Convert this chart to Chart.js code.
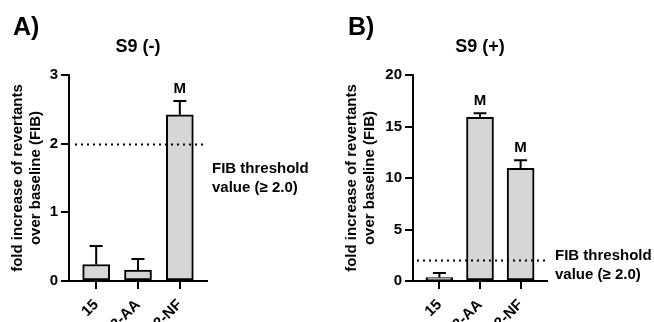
<!DOCTYPE html>
<html>
<head>
<meta charset="utf-8">
<script src="https://cdn.jsdelivr.net/npm/chart.js@4.4.1/dist/chart.umd.min.js"></script>
<style>
  html, body { margin: 0; padding: 0; background: #fff; overflow: hidden; }
  .row { display: flex; width: 654px; height: 322px; }
  canvas { display: block; }
</style>
</head>
<body>
<div class="row">
  <canvas id="panelA" width="327" height="340"></canvas>
  <canvas id="panelB" width="327" height="340"></canvas>
</div>
<script>
// values
var categories = ['15', '2-AA', '2-NF'];
var fibThreshold = 2.0;

var s9MinusMean = [0.24, 0.16, 2.42];
var s9MinusSD = [0.27, 0.16, 0.20];
var s9MinusMarks = ['', '', 'M'];

var s9PlusMean = [0.33, 15.9, 10.93];
var s9PlusSD = [0.45, 0.38, 0.80];
var s9PlusMarks = ['', 'M', 'M'];

var FONT = '"Liberation Sans", Arial, sans-serif';

var annotate = {
    id: 'annotate',
    afterDatasetsDraw: function (chart) {
        var p = chart.options.plugins.annotate;
        var ctx = chart.ctx;
        var area = chart.chartArea;
        var y = chart.scales.y;
        var meta = chart.getDatasetMeta(0);
        ctx.save();
        // error bars (upper only) + significance marks
        ctx.strokeStyle = '#000';
        ctx.lineWidth = 2;
        ctx.fillStyle = '#000';
        ctx.font = 'bold 15px ' + FONT;
        ctx.textAlign = 'center';
        ctx.textBaseline = 'middle';
        meta.data.forEach(function (bar, i) {
            var top = y.getPixelForValue(p.mean[i]);
            var errTop = y.getPixelForValue(p.mean[i] + p.sd[i]);
            ctx.beginPath();
            ctx.moveTo(bar.x, top);
            ctx.lineTo(bar.x, errTop);
            ctx.moveTo(bar.x - 6.5, errTop);
            ctx.lineTo(bar.x + 6.5, errTop);
            ctx.stroke();
            if (p.marks[i]) {
                ctx.fillText(p.marks[i], bar.x, errTop - 12);
            }
        });
        // threshold line
        var ty = Math.round(y.getPixelForValue(fibThreshold)) + 0.5;
        ctx.setLineDash([2, 4]);
        ctx.beginPath();
        ctx.moveTo(area.left + p.dotStart, ty);
        ctx.lineTo(area.right, ty);
        ctx.stroke();
        ctx.setLineDash([]);
        // threshold label
        ctx.textAlign = 'left';
        ctx.font = 'bold 15px ' + FONT;
        var ly = y.getPixelForValue(p.labelAt);
        ctx.fillText('FIB threshold', area.right + p.labelGap, ly - 9.5);
        ctx.fillText('value (\u2265 2.0)', area.right + p.labelGap, ly + 9.5);
        // panel letter and title
        ctx.font = 'bold 25px ' + FONT;
        ctx.fillText(p.tag, p.tagX, 28);
        ctx.font = 'bold 18px ' + FONT;
        ctx.textAlign = 'center';
        ctx.fillText(p.title, (area.left + area.right) / 2, 47);
        ctx.restore();
    }
};

function makePanel(id, mean, sd, marks, cfg) {
    var tickFont = {family: FONT, size: 15, weight: 'bold'};
    return new Chart(document.getElementById(id), {
        type: 'bar',
        data: {
            datasets: [{
                data: mean.map(function (v, i) { return {x: i, y: v}; }),
                backgroundColor: '#d6d6d6',
                borderColor: '#000',
                borderWidth: 2,
                borderSkipped: false,
                barThickness: 27
            }]
        },
        options: {
            responsive: false,
            animation: false,
            devicePixelRatio: 1,
            layout: {padding: {top: 75, right: cfg.padRight, bottom: 0, left: 0}},
            scales: {
                x: {
                    type: 'linear',
                    min: -0.65,
                    max: 2.65,
                    offset: false,
                    afterBuildTicks: function (s) {
                        s.ticks = categories.map(function (c, i) { return {value: i}; });
                    },
                    afterFit: function (s) { s.height = 59; },
                    ticks: {
                        autoSkip: false,
                        minRotation: 45,
                        maxRotation: 45,
                        padding: 7,
                        color: '#000',
                        font: tickFont,
                        callback: function (v, i) { return categories[i]; }
                    },
                    grid: {display: true, offset: false, drawOnChartArea: false, drawTicks: true,
                           tickLength: 8, lineWidth: 2, color: '#000'},
                    border: {display: true, color: '#000', width: 2}
                },
                y: {
                    min: 0,
                    max: cfg.yMax,
                    afterFit: function (s) { s.width = cfg.axisWidth; },
                    ticks: {stepSize: cfg.step, padding: 3, color: '#000', font: tickFont},
                    grid: {drawOnChartArea: false, drawTicks: true, tickLength: 8, lineWidth: 2, color: '#000'},
                    border: {display: true, color: '#000', width: 2},
                    title: {
                        display: true,
                        text: ['fold increase of revertants', 'over baseline (FIB)'],
                        color: '#000',
                        font: {family: FONT, size: 15, weight: 'bold', lineHeight: 1.2},
                        padding: {top: cfg.titlePad, bottom: 0}
                    }
                }
            },
            plugins: {
                legend: {display: false},
                tooltip: {enabled: false},
                annotate: {
                    mean: mean, sd: sd, marks: marks,
                    tag: cfg.tag, tagX: cfg.tagX, title: cfg.title,
                    dotStart: cfg.dotStart, labelAt: cfg.labelAt, labelGap: cfg.labelGap
                }
            }
        },
        plugins: [annotate]
    });
}

makePanel('panelA', s9MinusMean, s9MinusSD, s9MinusMarks, {
    yMax: 3, step: 1, axisWidth: 69, padRight: 120, titlePad: 9,
    tag: 'A)', tagX: 13, title: 'S9 (-)', dotStart: 6, labelAt: 1.5, labelGap: 5
});
makePanel('panelB', s9PlusMean, s9PlusSD, s9PlusMarks, {
    yMax: 20, step: 5, axisWidth: 86, padRight: 107, titlePad: 16,
    tag: 'B)', tagX: 21, title: 'S9 (+)', dotStart: 4, labelAt: 1.5, labelGap: 8
});
</script>
</body>
</html>
